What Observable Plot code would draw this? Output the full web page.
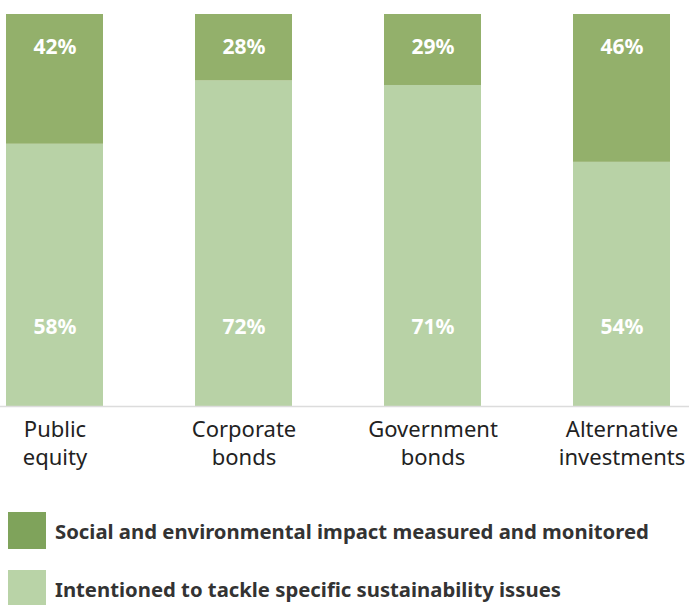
<!DOCTYPE html>
<html><head><meta charset="utf-8">
<script src="https://cdn.jsdelivr.net/npm/d3@7"></script>
<script src="https://cdn.jsdelivr.net/npm/@observablehq/plot@0.6"></script>
<style>
body{margin:0;background:#fff;font-family:"Source Sans Pro","Noto Sans",sans-serif;}
#legend{margin-top:36px;padding-left:8px;}
.item{display:flex;align-items:center;height:37px;margin-bottom:21px;font-weight:bold;font-size:20.3px;color:#333;}
.sw{width:38px;height:37px;margin-right:9px;}
</style></head>
<body>
<div id="chart"></div>
<div id="legend"></div>
<script>
const categories = ["Public equity","Corporate bonds","Government bonds","Alternative investments"];
const tickLabels = ["Public\nequity","Corporate\nbonds","Government\nbonds","Alternative\ninvestments"];
const seriesNames = ["Intentioned to tackle specific sustainability issues","Social and environmental impact measured and monitored"];
const intentioned = [58,72,71,54];
const measured = [42,28,29,46];
const colors = ["#b8d2a6","#93b06b"];
const legendColors = ["#b9d3a7","#7fa35b"];

const data = [];
categories.forEach((c,i)=>{
  data.push({cat:c, series:seriesNames[0], value:intentioned[i]});
  data.push({cat:c, series:seriesNames[1], value:measured[i]});
});

const chart = Plot.plot({
  width:689, height:476,
  marginTop:14, marginBottom:70, marginLeft:6, marginRight:19,
  style:{fontFamily:'"Noto Sans",sans-serif', background:"#fff"},
  x:{domain:categories, paddingInner:0.487, paddingOuter:0, align:0.5, label:null},
  y:{domain:[0,86.7], axis:null},
  color:{domain:seriesNames, range:colors},
  marks:[
    Plot.barY(data, Plot.stackY({x:"cat", y:"value", fill:"series", order:seriesNames, clip:true})),
    Plot.ruleY([0], {stroke:"#dcdcdc", strokeWidth:1.5, insetLeft:-6, insetRight:-19}),
    Plot.text(data.filter(d=>d.series===seriesNames[1]), {x:"cat", text:d=>d.value+"%", frameAnchor:"top", dy:25, fill:"white", fontSize:21, fontWeight:"bold"}),
    Plot.text(data.filter(d=>d.series===seriesNames[0]), {x:"cat", text:d=>d.value+"%", frameAnchor:"bottom", dy:-73, fill:"white", fontSize:21, fontWeight:"bold"}),
    Plot.axisX({tickSize:0, tickPadding:10, fontSize:22, lineHeight:1.3, fill:"#222", tickFormat:c=>tickLabels[categories.indexOf(c)], label:null})
  ]
});
document.getElementById("chart").appendChild(chart);

const lg = document.getElementById("legend");
[1,0].forEach(i=>{
  const it = document.createElement("div"); it.className="item";
  const sw = document.createElement("div"); sw.className="sw"; sw.style.background=legendColors[i];
  const t = document.createElement("span"); t.textContent=seriesNames[i];
  it.appendChild(sw); it.appendChild(t); lg.appendChild(it);
});
</script>
</body></html>
